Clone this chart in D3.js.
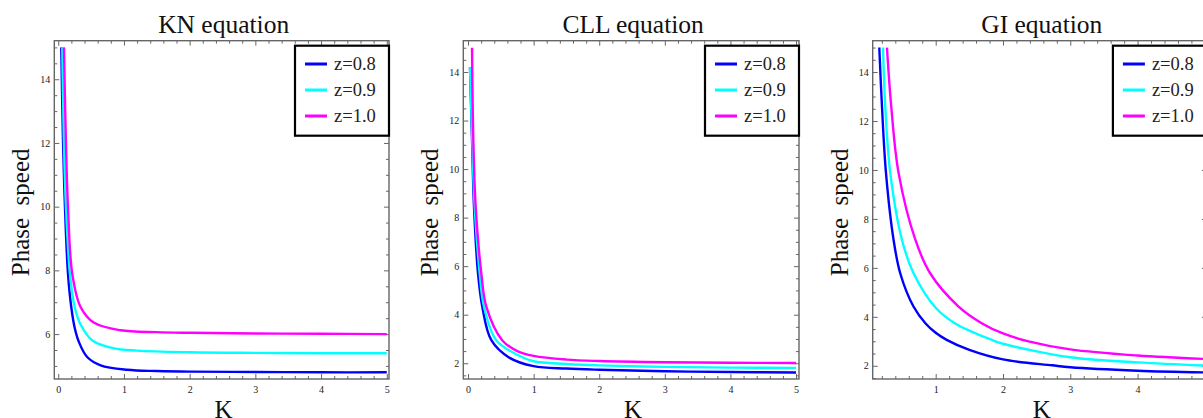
<!DOCTYPE html>
<html>
<head>
<meta charset="utf-8">
<script src="https://cdn.jsdelivr.net/npm/d3@7"></script>
<style>
  body { margin: 0; background: #fff; }
  svg text { font-family: "Liberation Serif", "Times New Roman", serif; }
</style>
</head>
<body>
<script>
// chart values
var titles = ["KN equation", "CLL equation", "GI equation"];
var seriesNames = ["z=0.8", "z=0.9", "z=1.0"];
var xTicks = [0, 1, 2, 3, 4, 5];
var knYTicks = [6, 8, 10, 12, 14];
var cllYTicks = [2, 4, 6, 8, 10, 12, 14];
var giYTicks = [2, 4, 6, 8, 10, 12, 14];

// [K, phase speed]
var knBlue = [[0.046, 15], [0.072, 12.1], [0.102, 10.0], [0.148, 7.9], [0.198, 6.85], [0.25, 6.2], [0.315, 5.75],
    [0.44, 5.28], [0.645, 5.02], [1.05, 4.88], [1.5, 4.84], [2, 4.82], [3, 4.81], [4, 4.8], [5, 4.8]];
var knCyan = [[0.061, 15], [0.085, 12.2], [0.117, 10.0], [0.178, 7.9], [0.25, 6.85], [0.34, 6.3], [0.52, 5.8],
    [0.85, 5.55], [1.2, 5.48], [2, 5.43], [3, 5.41], [4, 5.4], [5, 5.4]];
var knMagenta = [[0.087, 15], [0.115, 12.2], [0.148, 10.0], [0.213, 7.9], [0.34, 6.85], [0.54, 6.36], [0.95, 6.12],
    [1.5, 6.06], [2, 6.04], [3, 6.02], [4, 6.01], [5, 6.0]];

var cllBlue = [[0.03, 14.2], [0.061, 11.2], [0.091, 8.45], [0.152, 5.7], [0.218, 4.32], [0.355, 2.95], [0.635, 2.22],
    [1.0, 1.88], [1.5, 1.78], [2, 1.73], [3, 1.67], [4, 1.64], [5, 1.62]];
var cllCyan = [[0.03, 14.2], [0.065, 11.2], [0.102, 8.45], [0.178, 5.7], [0.244, 4.32], [0.43, 2.95], [0.75, 2.35],
    [1.0, 2.08], [1.5, 1.97], [2, 1.91], [3, 1.85], [4, 1.82], [5, 1.81]];
var cllMagenta = [[0.061, 15], [0.081, 11.2], [0.117, 8.45], [0.203, 5.7], [0.28, 4.32], [0.52, 2.95], [0.75, 2.5],
    [1.0, 2.3], [1.5, 2.15], [2, 2.09], [3, 2.04], [4, 2.02], [5, 2.01]];

var giBlue = [[0.162, 15], [0.202, 12.58], [0.262, 9.86], [0.375, 7.13], [0.474, 5.77], [0.67, 4.42], [0.85, 3.73],
    [1.0, 3.35], [1.17, 3.05], [1.5, 2.65], [2, 2.26], [2.73, 2.02], [3, 1.94], [4, 1.8], [5, 1.73]];
var giCyan = [[0.217, 15], [0.251, 12.58], [0.326, 9.86], [0.5, 7.13], [0.673, 5.77], [1.0, 4.37], [1.29, 3.73],
    [1.84, 3.05], [2, 2.9], [3, 2.35], [4, 2.14], [5, 2.01]];
var giMagenta = [[0.276, 15], [0.34, 12.58], [0.45, 9.86], [0.70, 7.13], [0.92, 5.77], [1.34, 4.42], [1.69, 3.73],
    [2.0, 3.32], [2.38, 3.0], [3, 2.67], [4, 2.42], [5, 2.28]];

var colors = ["#0000ff", "#00ffff", "#ff00ff"];

var svg = d3.select("body").append("svg")
    .attr("width", 1203)
    .attr("height", 418);

var frameTop = 40.7, frameBottom = 379;

var panels = [
    {title: titles[0], left: 54.3, width: 334.7, xDom: [-0.06, 5.034], yDom: [4.59, 15.21], yTicks: knYTicks,
        series: [knBlue, knCyan, knMagenta]},
    {title: titles[1], left: 463.3, width: 335.7, xDom: [-0.072, 5.045], yDom: [1.35, 15.29], yTicks: cllYTicks,
        series: [cllBlue, cllCyan, cllMagenta]},
    {title: titles[2], left: 872.7, width: 334.2, xDom: [0.064, 5.03], yDom: [1.46, 15.28], yTicks: giYTicks,
        series: [giBlue, giCyan, giMagenta]}
];

panels.forEach(function (p, i) {
    var right = p.left + p.width;
    var x = d3.scaleLinear().domain(p.xDom).range([p.left, right]);
    var y = d3.scaleLinear().domain(p.yDom).range([frameBottom, frameTop]);

    var g = svg.append("g");

    // minor ticks
    var xMinor = d3.range(0, 5.01, 0.2).filter(function (v) {
        return v >= p.xDom[0] && v <= p.xDom[1] && Math.abs(v - Math.round(v)) > 0.01;
    });
    var yMinor = d3.range(Math.ceil(p.yDom[0] * 2) / 2, p.yDom[1], 0.5).filter(function (v) {
        return v % 2 !== 0;
    });
    var xMajor = xTicks.filter(function (v) { return v >= p.xDom[0] && v <= p.xDom[1]; });

    function styleAxis(sel) {
        sel.select(".domain").remove();
        sel.selectAll("line").attr("stroke", "#666").attr("stroke-width", 1);
        sel.selectAll("text").attr("fill", "#222")
            .style("font-family", "'Liberation Serif', serif").style("font-size", "10px");
    }

    g.append("g").attr("transform", "translate(0," + frameBottom + ")")
        .call(d3.axisBottom(x).tickValues(xMajor).tickSize(-5).tickPadding(7).tickFormat(d3.format("d")))
        .call(styleAxis);
    g.append("g").attr("transform", "translate(0," + frameBottom + ")")
        .call(d3.axisBottom(x).tickValues(xMinor).tickSize(-3).tickFormat(""))
        .call(styleAxis);
    g.append("g").attr("transform", "translate(0," + frameTop + ")")
        .call(d3.axisTop(x).tickValues(xMajor).tickSize(-5).tickFormat(""))
        .call(styleAxis);
    g.append("g").attr("transform", "translate(0," + frameTop + ")")
        .call(d3.axisTop(x).tickValues(xMinor).tickSize(-3).tickFormat(""))
        .call(styleAxis);

    g.append("g").attr("transform", "translate(" + p.left + ",0)")
        .call(d3.axisLeft(y).tickValues(p.yTicks).tickSize(-5).tickPadding(4).tickFormat(d3.format("d")))
        .call(styleAxis);
    g.append("g").attr("transform", "translate(" + p.left + ",0)")
        .call(d3.axisLeft(y).tickValues(yMinor).tickSize(-3).tickFormat(""))
        .call(styleAxis);
    g.append("g").attr("transform", "translate(" + right + ",0)")
        .call(d3.axisRight(y).tickValues(p.yTicks).tickSize(-5).tickFormat(""))
        .call(styleAxis);
    g.append("g").attr("transform", "translate(" + right + ",0)")
        .call(d3.axisRight(y).tickValues(yMinor).tickSize(-3).tickFormat(""))
        .call(styleAxis);

    // frame
    g.append("rect")
        .attr("x", p.left).attr("y", frameTop)
        .attr("width", p.width).attr("height", frameBottom - frameTop)
        .attr("fill", "none").attr("stroke", "#666").attr("stroke-width", 1.4);

    // curves
    var clipId = "clip" + i;
    svg.append("clipPath").attr("id", clipId).append("rect")
        .attr("x", p.left).attr("y", frameTop)
        .attr("width", p.width).attr("height", frameBottom - frameTop);

    var line = d3.line()
        .x(function (d) { return x(d[0]); })
        .y(function (d) { return y(d[1]); })
        .curve(d3.curveCatmullRom.alpha(0.5));

    g.append("g").attr("clip-path", "url(#" + clipId + ")")
        .selectAll("path")
        .data(p.series)
        .enter()
        .append("path")
        .attr("d", line)
        .attr("fill", "none")
        .attr("stroke", function (d, j) { return colors[j]; })
        .attr("stroke-width", 2.4);

    // title and axis labels
    var cx = p.left + p.width / 2 + 2;
    g.append("text").attr("x", cx).attr("y", 33)
        .attr("text-anchor", "middle").style("font-size", "25.5px").attr("fill", "#111")
        .text(p.title);
    g.append("text").attr("x", cx).attr("y", 418)
        .attr("text-anchor", "middle").style("font-size", "25px").attr("fill", "#111")
        .text("K");
    g.append("text")
        .attr("transform", "translate(" + (p.left - 25) + "," + ((frameTop + frameBottom) / 2 + 2.5) + ") rotate(-90)")
        .attr("text-anchor", "middle").style("font-size", "25px").style("white-space", "pre").attr("fill", "#111")
        .text("Phase  speed");

    // legend
    var lx = right - 94, ly = frameTop + 5;
    var leg = g.append("g").attr("transform", "translate(" + lx + "," + ly + ")");
    leg.append("rect").attr("width", 94).attr("height", 90)
        .attr("fill", "#fff").attr("stroke", "#000").attr("stroke-width", 2.2);
    seriesNames.forEach(function (name, j) {
        leg.append("line")
            .attr("x1", 10).attr("x2", 32)
            .attr("y1", 18.3 + j * 26).attr("y2", 18.3 + j * 26)
            .attr("stroke", colors[j]).attr("stroke-width", 3);
        leg.append("text")
            .attr("x", 39).attr("y", 24.5 + j * 26)
            .style("font-size", "18.5px").attr("fill", "#222")
            .text(name);
    });
});
</script>
</body>
</html>
